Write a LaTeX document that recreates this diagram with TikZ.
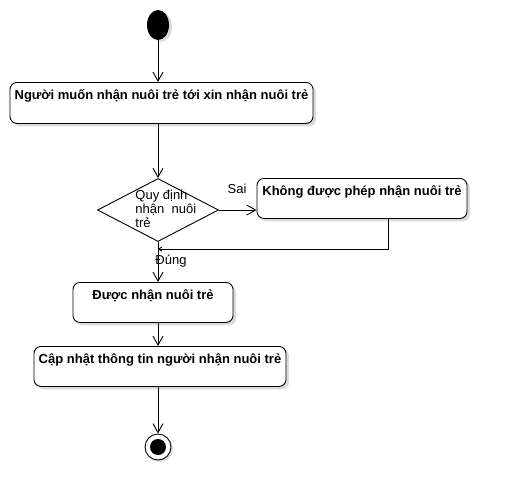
\documentclass[tikz,border=0pt]{standalone}
\usepackage{fontspec}
\setmainfont{Liberation Sans}
\usetikzlibrary{shapes.geometric,arrows.meta,shadows}

\begin{document}
\begin{tikzpicture}[x=1pt, y=-1pt, line width=0.9pt, >={Straight Barb[length=9pt,width=10pt]},
  activity/.style={draw, rounded corners=7pt, fill=white, font=\fontsize{13}{14}\selectfont\bfseries,
    inner xsep=2pt, inner ysep=3pt, text height=14pt, text depth=20pt, anchor=north,
    drop shadow={shadow xshift=3pt, shadow yshift=-3pt, fill=black!14, opacity=1}},
  decision/.style={diamond, draw, fill=white, minimum width=121pt, minimum height=63pt, inner sep=0pt},
  guard/.style={font=\fontsize{13}{14}\selectfont}]
  \useasboundingbox (0,0) rectangle (506,499);

  \node[ellipse, fill=black, minimum width=22pt, minimum height=30pt, inner sep=0pt,
    drop shadow={shadow xshift=3pt, shadow yshift=-2pt, fill=black!14, opacity=1}] (start) at (158,25) {};
  \node[activity, minimum width=303pt, minimum height=41pt] (request) at (161.5,82) {Người muốn nhận nuôi trẻ tới xin nhận nuôi trẻ};
  \node[decision] (rule) at (158,210) {};
  \node[guard, align=left, anchor=west, inner sep=0pt] (ruletext) at (135,209) {Quy định\\nhận\ \ nuôi\\trẻ};
  \node[activity, minimum width=210pt, minimum height=39pt] (refuse) at (362,178) {Không được phép nhận nuôi trẻ};
  \coordinate (merge) at (158,249);
  \node[activity, minimum width=160pt] (granted) at (153,282) {Được nhận nuôi trẻ};
  \node[activity, minimum width=252pt, minimum height=39pt] (update) at (160,346) {Cập nhật thông tin người nhận nuôi trẻ};
  \node[circle, draw, fill=white, minimum size=26pt, inner sep=0pt,
    drop shadow={shadow xshift=2pt, shadow yshift=-2pt, fill=black!14, opacity=1}] (end) at (158,447) {};
  \fill (end) circle (8pt);

  \node[guard] (sai) at (237,189) {Sai};
  \node[guard] (dung) at (171,261) {Đúng};

  \draw[->] (start) -- (start |- request.north);
  \draw[->] (request.south -| rule) -- (rule.north);
  \draw[->] (rule.east) -- (rule.east -| refuse.west);
  \draw[-{Straight Barb[length=3pt,width=4pt]}] ([xshift=26pt]refuse.south) |- (merge);
  \draw[->] (rule.south) -- (rule |- granted.north);
  \draw[->] (granted.south -| rule) -- (rule |- update.north);
  \draw[->] (update.south -| rule) -- (end.north);
\end{tikzpicture}
\end{document}
